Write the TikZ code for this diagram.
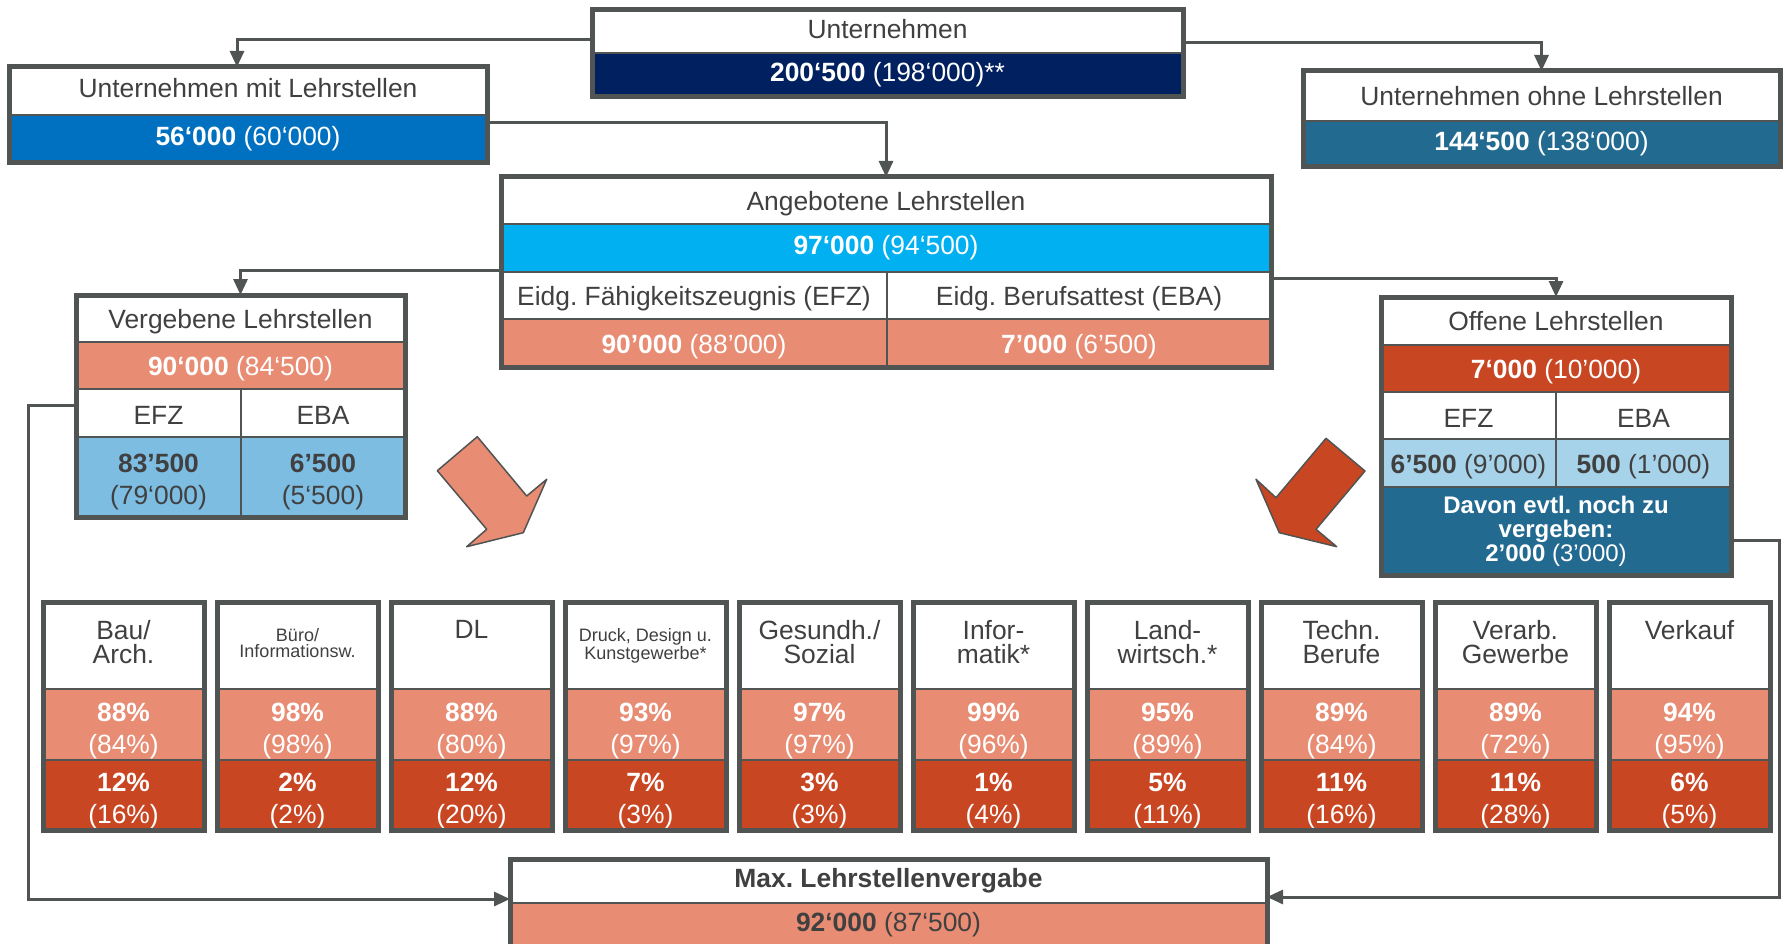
\documentclass[tikz,border=0pt]{standalone}
\usepackage{fontspec}
\setmainfont{Liberation Sans}
\usetikzlibrary{arrows.meta}
\frenchspacing
\definecolor{framegray}{RGB}{80,84,82}
\definecolor{navy}{RGB}{0,32,96}
\definecolor{midblue}{RGB}{0,112,192}
\definecolor{skyblue}{RGB}{0,176,240}
\definecolor{steel}{RGB}{35,106,145}
\definecolor{salmon}{RGB}{232,140,115}
\definecolor{rust}{RGB}{201,70,35}
\definecolor{paleblue}{RGB}{125,189,226}
\definecolor{lightblue}{RGB}{166,211,234}
\definecolor{txtgray}{RGB}{64,64,64}
% struts to nudge text inside a cell
\newcommand\sink[1]{\rule{0pt}{#1}}
\newcommand\lift[1]{\rule[-#1]{0pt}{0pt}}
\tikzset{cell/.style={draw=framegray, line width=2.5pt, inner sep=0pt, outer sep=0pt, anchor=north west, align=center, font=\fontsize{26.4}{32}\selectfont}}
\tikzset{head/.style={cell, fill=white, text=txtgray}}
\tikzset{val/.style={cell, text=white}}
\tikzset{frame/.style={draw=framegray, line width=5pt}}
\tikzset{conn/.style={draw=framegray, line width=3pt, -{Triangle[width=14pt,length=16pt]}}}
\tikzset{blockarrow/.style={draw=framegray, line width=1.5pt, line join=round}}

\begin{document}
\begin{tikzpicture}[x=1pt, y=-1pt]
\useasboundingbox (0,0) rectangle (1785,944);

% companies
\node[head, minimum width=591pt, minimum height=43pt] (unt-h) at (592,10) {Unternehmen\lift{4.6pt}};
\node[val, fill=navy, minimum width=591pt, minimum height=44pt] (unt-v) at (592,53) {\textbf{200‘500} (198‘000)**};
\draw[frame] (unt-h.north west) rectangle (unt-v.south east);

\node[head, minimum width=478pt, minimum height=48pt] (mit-h) at (9,67) {Unternehmen mit Lehrstellen\lift{6.8pt}};
\node[val, fill=midblue, minimum width=478pt, minimum height=48pt] (mit-v) at (9,115) {\textbf{56‘000} (60‘000)};
\draw[frame] (mit-h.north west) rectangle (mit-v.south east);

\node[head, minimum width=477pt, minimum height=50pt] (ohne-h) at (1303,71) {Unternehmen ohne Lehrstellen};
\node[val, fill=steel, minimum width=477pt, minimum height=46pt] (ohne-v) at (1303,121) {\textbf{144‘500} (138‘000)};
\draw[frame] (ohne-h.north west) rectangle (ohne-v.south east);

% offered
\node[head, minimum width=770pt, minimum height=47pt] (ang-h) at (501,177) {\sink{26pt}Angebotene Lehrstellen};
\node[val, fill=skyblue, minimum width=770pt, minimum height=48pt] (ang-v) at (501,224) {\textbf{97‘000} (94‘500)};
\node[head, minimum width=386pt, minimum height=47pt] (ang-efz) at (501,272) {\sink{26pt}Eidg. Fähigkeitszeugnis (EFZ)};
\node[head, minimum width=384pt, minimum height=47pt] (ang-eba) at (887,272) {\sink{26pt}Eidg. Berufsattest (EBA)};
\node[val, fill=salmon, minimum width=386pt, minimum height=48pt] (ang-efzv) at (501,319) {\sink{26pt}\textbf{90’000} (88’000)};
\node[val, fill=salmon, minimum width=384pt, minimum height=48pt] (ang-ebav) at (887,319) {\sink{26pt}\textbf{7’000} (6’500)};
\draw[frame] (ang-h.north west) rectangle (ang-ebav.south east);

% given
\node[head, minimum width=329pt, minimum height=47pt] (vg-h) at (76,295) {\sink{26pt}Vergebene Lehrstellen};
\node[val, fill=salmon, minimum width=329pt, minimum height=47pt] (vg-v) at (76,342) {\sink{26pt}\textbf{90‘000} (84‘500)};
\node[head, minimum width=165pt, minimum height=48pt] (vg-efz) at (76,389) {\sink{23.5pt}EFZ};
\node[head, minimum width=164pt, minimum height=48pt] (vg-eba) at (241,389) {\sink{23.5pt}EBA};
\node[val, fill=paleblue, text=txtgray, minimum width=165pt, minimum height=80pt] (vg-efzv) at (76,437) {\sink{28pt}\textbf{83’500}\\(79‘000)};
\node[val, fill=paleblue, text=txtgray, minimum width=164pt, minimum height=80pt] (vg-ebav) at (241,437) {\sink{28pt}\textbf{6’500}\\(5‘500)};
\draw[frame] (vg-h.north west) rectangle (vg-ebav.south east);

% open
\node[head, minimum width=350pt, minimum height=48pt] (of-h) at (1381,297) {Offene Lehrstellen};
\node[val, fill=rust, minimum width=350pt, minimum height=47pt] (of-v) at (1381,345) {\sink{26pt}\textbf{7‘000} (10’000)};
\node[head, minimum width=175pt, minimum height=47pt] (of-efz) at (1381,392) {\sink{23.5pt}EFZ};
\node[head, minimum width=175pt, minimum height=47pt] (of-eba) at (1556,392) {\sink{23.5pt}EBA};
\node[val, fill=lightblue, text=txtgray, minimum width=175pt, minimum height=48pt] (of-efzv) at (1381,439) {\sink{26pt}\textbf{6’500} (9’000)};
\node[val, fill=lightblue, text=txtgray, minimum width=175pt, minimum height=48pt] (of-ebav) at (1556,439) {\sink{26pt}\textbf{500} (1’000)};
\node[val, fill=steel, minimum width=350pt, minimum height=88pt, font=\fontsize{24}{24}\selectfont\bfseries] (of-rest) at (1381,487) {Davon evtl. noch zu\\vergeben:\\2’000 {\mdseries(3’000)}};
\draw[frame] (of-h.north west) rectangle (of-rest.south east);

% max
\node[head, minimum width=757pt, minimum height=44pt, font=\fontsize{26.4}{32}\selectfont\bfseries] (max-h) at (510,859) {Max. Lehrstellenvergabe};
\node[val, fill=salmon, text=txtgray, minimum width=757pt, minimum height=44pt] (max-v) at (510,903) {\textbf{92‘000} (87‘500)};
\draw[frame] (max-h.north west) rectangle (max-v.south east);

% fields
\foreach \lab/\fs/\bs/\dy/\pa/\pb/\ra/\rb [count=\i] in {
  {Bau/\\Arch.}/26.4/24/18.5/{88\%}/{84\%}/{12\%}/{16\%},
  {Büro/\\Informationsw.}/18/16/26.5/{98\%}/{98\%}/{2\%}/{2\%},
  {DL}/26.4/24/18.5/{88\%}/{80\%}/{12\%}/{20\%},
  {Druck, Design u.\\Kunstgewerbe*}/18/16/26.5/{93\%}/{97\%}/{7\%}/{3\%},
  {Gesundh./\\Sozial}/26.4/24/18.5/{97\%}/{97\%}/{3\%}/{3\%},
  {Infor-\\matik*}/26.4/24/18.5/{99\%}/{96\%}/{1\%}/{4\%},
  {Land-\\wirtsch.*}/26.4/24/18.5/{95\%}/{89\%}/{5\%}/{11\%},
  {Techn.\\Berufe}/26.4/24/18.5/{89\%}/{84\%}/{11\%}/{16\%},
  {Verarb.\\Gewerbe}/26.4/24/18.5/{89\%}/{72\%}/{11\%}/{28\%},
  {Verkauf}/26.4/24/18.5/{94\%}/{95\%}/{6\%}/{5\%}} {
  \node[head, minimum width=161pt, minimum height=87pt] (cat\i-h) at ({43+174*(\i-1)},602) {};
  \node[text=txtgray, align=center, inner sep=0pt, anchor=north, font=\fontsize{\fs}{\bs}\selectfont] (cat\i-t) at ([yshift=-\dy pt]cat\i-h.north) {\lab};
  \node[val, fill=salmon, minimum width=161pt, minimum height=71pt] (cat\i-a) at ({43+174*(\i-1)},689) {\sink{30.5pt}\textbf{\pa}\\(\pb)};
  \node[val, fill=rust, minimum width=161pt, minimum height=70pt] (cat\i-b) at ({43+174*(\i-1)},760) {\sink{30.5pt}\textbf{\ra}\\(\rb)};
  \draw[frame] (cat\i-h.north west) rectangle (cat\i-b.south east);
}

% connectors
\draw[conn] ([yshift=13pt]unt-h.south west) -| ([xshift=-11pt]mit-h.north);
\draw[conn] ([yshift=10pt]unt-h.south east) -| (ohne-h.north);
\draw[conn] ([yshift=-8pt]mit-v.north east) -| (ang-h.north);
\draw[conn] ([yshift=2pt]ang-efz.north west) -| (vg-h.north);
\draw[conn] ([yshift=-6pt]ang-eba.north east) -| (of-h.north);
\draw[conn] ([yshift=8pt]vg-efz.west) -- ++(-48,0) |- ([yshift=4pt]max-h.south west);
\draw[conn] ([yshift=-9pt]of-rest.east) -- ++(48,0) |- ([yshift=6pt]max-h.south east);

% block arrows
\draw[blockarrow, fill=salmon] (477.3,436.7) -- (437.3,470.7) -- (486.7,529.3) -- (466.7,546.7) -- (523.3,532.7) -- (546.7,479.3) -- (526.7,496) -- cycle;
\draw[blockarrow, fill=rust] (1326,438.3) -- (1365,471) -- (1316,529.3) -- (1336.7,546.7) -- (1279.3,532.7) -- (1256,479.3) -- (1276,497.7) -- cycle;
\end{tikzpicture}
\end{document}
